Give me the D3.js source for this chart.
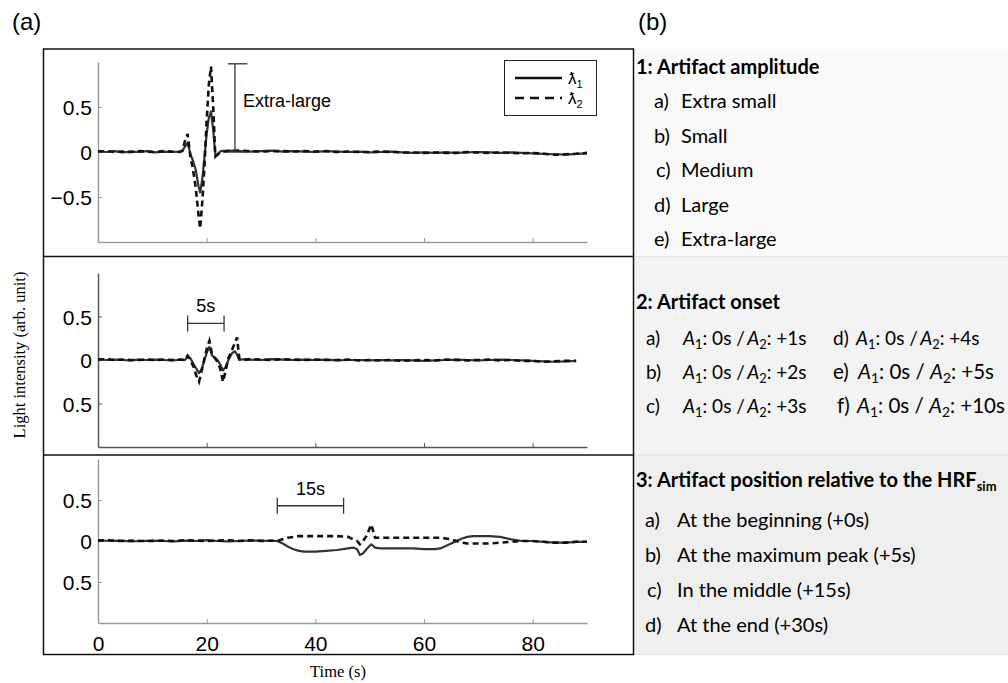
<!DOCTYPE html>
<html>
<head>
<meta charset="utf-8">
<script src="https://cdn.jsdelivr.net/npm/d3@7"></script>
<style>
  body { margin: 0; background: #fff; }
  svg { display: block; }
</style>
</head>
<body>
<div id="draw_here"></div>
<script type="text/javascript">
    // values (time in s, light intensity in arb. unit)
    xTicks = [0, 20, 40, 60, 80]
    yTicks = [-0.5, 0, 0.5]
    yTickLabelsTop = ["\u22120.5", "0", "0.5"]
    yTickLabelsOther = ["0.5", "0", "0.5"]

    // panel 1: extra-large amplitude
    t1 = [0, 1.5, 3, 4.5, 6, 7.5, 9, 10.5, 12, 13.5, 15, 15.5, 16, 16.5, 17, 17.5, 18, 18.5, 18.8, 19.2, 19.6, 20, 20.4, 20.8, 21.2, 21.6, 22, 22.6,
          24, 26, 28, 30, 32, 34, 36, 38, 40, 42, 44, 46, 48, 50, 52, 54, 56, 58, 60, 62, 64, 66, 68, 70, 72, 74, 76, 78, 80, 82, 84, 86, 88, 90]
    p1_l1 = [0.01, 0.0, 0.01, -0.005, 0.005, 0.0, 0.01, -0.005, 0.005, 0.0, 0.005, 0.01, 0.06, 0.1, -0.02, -0.1, -0.2, -0.38, -0.45, -0.3, -0.05, 0.2, 0.38, 0.45, 0.25, -0.04, -0.02, 0.01,
          0.015, 0.01, 0.005, 0.01, 0.015, 0.005, 0.01, 0.005, 0.0, 0.01, 0.005, 0.0, 0.005, -0.005, 0.0, 0.005, -0.005, -0.01, -0.005, -0.01, -0.005, -0.01, -0.005, 0.0, -0.005, -0.01, -0.005, -0.01, -0.015, -0.02, -0.025, -0.03, -0.02, -0.015]
    p1_l2 = [0.005, 0.01, 0.0, 0.005, 0.0, 0.01, 0.005, 0.0, 0.01, 0.005, 0.0, 0.01, 0.12, 0.2, -0.05, -0.2, -0.4, -0.7, -0.85, -0.55, -0.15, 0.35, 0.75, 0.95, 0.5, -0.05, -0.03, 0.0,
          0.01, 0.015, 0.01, 0.005, 0.01, 0.01, 0.005, 0.01, 0.005, 0.01, 0.0, 0.005, 0.0, 0.0, 0.005, 0.0, -0.005, -0.005, -0.01, -0.005, -0.01, -0.01, 0.0, -0.005, -0.01, -0.005, -0.01, -0.015, -0.01, -0.02, -0.03, -0.025, -0.02, -0.01]

    // panel 2: onset (A1 / A2 five seconds apart)
    t2 = [0, 1.5, 3, 4.5, 6, 7.5, 9, 10.5, 12, 13.5, 15, 16, 16.5, 17, 17.6, 18.1, 18.6, 19.1, 19.6, 20.1, 20.5, 21, 21.5, 22, 22.5, 23, 23.5, 24, 24.7, 25.2, 25.6, 26, 27,
          28, 30, 32, 34, 36, 38, 40, 42, 44, 46, 48, 50, 52, 54, 56, 58, 60, 62, 64, 66, 68, 70, 72, 74, 76, 78, 80, 82, 84, 86, 88, 90]
    p2_l1 = [0.01, 0.0, 0.005, 0.0, -0.005, 0.005, 0.0, 0.005, 0.0, -0.005, 0.0, 0.0, 0.04, 0.02, -0.05, -0.1, -0.15, -0.1, 0.0, 0.1, 0.15, 0.05, 0.03, 0.0, -0.05, -0.12, -0.08, 0.0, 0.08, 0.1, 0.06, 0.0, 0.01,
          0.005, 0.0, 0.01, 0.005, 0.0, 0.005, 0.0, 0.005, -0.005, 0.0, 0.0, -0.005, 0.0, -0.005, 0.0, -0.005, -0.01, -0.005, 0.0, 0.005, 0.0, -0.005, 0.0, 0.005, 0.0, -0.005, -0.01, -0.015, -0.02, -0.015, -0.01]
    p2_l2 = [0.005, 0.01, 0.0, 0.005, 0.0, 0.0, 0.005, 0.0, 0.005, 0.0, 0.005, 0.0, 0.05, 0.0, -0.08, -0.18, -0.25, -0.12, 0.02, 0.15, 0.22, 0.06, 0.02, -0.02, -0.1, -0.25, -0.12, 0.02, 0.12, 0.2, 0.26, 0.02, 0.0,
          0.01, 0.005, 0.0, 0.01, 0.005, 0.0, 0.005, 0.0, 0.0, 0.005, -0.005, 0.0, -0.005, 0.0, -0.01, -0.005, 0.0, -0.005, 0.005, 0.0, -0.005, 0.0, 0.005, -0.005, 0.0, -0.01, -0.01, -0.02, -0.015, -0.01, -0.01]

    // panel 3: artifact in the middle of the simulated HRF
    t3 = [0, 2, 4, 6, 8, 10, 12, 14, 16, 18, 20, 22, 24, 26, 28, 30, 32, 33, 34, 35, 36, 37, 38, 40, 42, 44, 46, 47, 47.7, 48.2, 48.8, 49.4, 50.3, 51, 52,
          54, 56, 58, 60, 62, 63, 64, 65, 66, 67, 68, 69, 70, 72, 74, 76, 78, 80, 82, 84, 86, 88, 90]
    p3_l1 = [0.01, 0.0, 0.005, -0.005, 0.0, 0.005, 0.0, -0.005, 0.005, 0.0, 0.01, 0.0, -0.005, 0.0, 0.005, 0.005, 0.0, 0.0, -0.03, -0.07, -0.1, -0.12, -0.13, -0.13, -0.12, -0.11, -0.09, -0.08, -0.1, -0.17, -0.15, -0.1, -0.04, -0.08, -0.09,
          -0.09, -0.09, -0.09, -0.1, -0.1, -0.09, -0.06, -0.03, 0.0, 0.03, 0.05, 0.06, 0.06, 0.06, 0.05, 0.02, 0.0, 0.0, -0.01, -0.02, -0.02, -0.01, -0.01]
    p3_l2 = [0.005, 0.01, 0.0, 0.005, 0.0, 0.0, 0.005, 0.0, 0.01, 0.005, 0.0, 0.005, 0.01, 0.0, 0.01, 0.0, 0.005, 0.0, 0.02, 0.04, 0.05, 0.06, 0.06, 0.06, 0.06, 0.06, 0.05, 0.02, 0.0, -0.04, 0.0, 0.06, 0.2, 0.04, 0.04,
          0.04, 0.04, 0.04, 0.04, 0.04, 0.04, 0.03, 0.02, 0.0, -0.02, -0.03, -0.03, -0.03, -0.03, -0.02, -0.01, 0.0, 0.0, -0.01, -0.02, -0.02, -0.01, -0.01]

    // annotations (data coords)
    brXL = {t: 25.2, t0: 23.9, t1: 27.5, y0: 0.0, y1: 0.98, label: "Extra-large"}
    br5s = {t0: 16.5, t1: 23.2, y: 0.42, label: "5s"}
    br15s = {t0: 33, t1: 45.2, y: 0.43, label: "15s"}

    legendNames = ["\u019B", "\u019B"]
    legendSubs = ["1", "2"]

    // right-hand table
    sec1Title = "1: Artifact amplitude"
    sec1Keys = ["a)", "b)", "c)", "d)", "e)"]
    sec1Items = ["Extra small", "Small", "Medium", "Large", "Extra-large"]
    sec2Title = "2: Artifact onset"
    sec2Left = [["a)", "+1s"], ["b)", "+2s"], ["c)", "+3s"]]
    sec2Right = [["d)", "+4s"], ["e)", "+5s"], ["f)", "+10s"]]
    sec3Title = "3: Artifact position relative to the HRF"
    sec3Keys = ["a)", "b)", "c)", "d)"]
    sec3Items = ["At the beginning (+0s)", "At the maximum peak (+5s)", "In the middle (+15s)", "At the end (+30s)"]

    // Setup
    canvas = ({width: 1008, height: 683})
    box = ({left: 43.5, right: 633.5, top: 49, bottom: 654.5, div1: 256.5, div2: 455})
    sans = "'Liberation Sans', Arial, sans-serif"
    serif = "'Liberation Serif', 'Times New Roman', serif"
    calib = "Lato, 'Open Sans', sans-serif"

    panels = [
        {t: t1, l1: p1_l1, l2: p1_l2, top: 62, bottom: 242, axisColor: "#9a9a9a", labels: yTickLabelsTop},
        {t: t2, l1: p2_l1, l2: p2_l2, top: 273, bottom: 447, axisColor: "#555", labels: yTickLabelsOther},
        {t: t3, l1: p3_l1, l2: p3_l2, top: 459, bottom: 623, axisColor: "#9a9a9a", labels: yTickLabelsOther}
    ]

    x = d3.scaleLinear().domain([0, 90]).range([98, 587])

    var svg = d3.select("div#draw_here").append("svg")
        .attr("width", canvas.width)
        .attr("height", canvas.height)
        .attr("viewBox", [0, 0, canvas.width, canvas.height])

    // right side backgrounds
    sectionBg = [
        {y0: box.top, y1: box.div1, fill: "#f9f9f9"},
        {y0: box.div1, y1: box.div2, fill: "#f3f3f3"},
        {y0: box.div2, y1: box.bottom, fill: "#efefef"}
    ]
    svg.selectAll("rect.bg").data(sectionBg).join("rect")
        .attr("class", "bg")
        .attr("x", box.right)
        .attr("y", d => d.y0)
        .attr("width", canvas.width - box.right)
        .attr("height", d => d.y1 - d.y0)
        .attr("fill", d => d.fill)
    svg.selectAll("line.sep").data([box.div1, box.div2, box.bottom]).join("line")
        .attr("class", "sep")
        .attr("x1", box.right).attr("x2", canvas.width)
        .attr("y1", d => d).attr("y2", d => d)
        .attr("stroke", "#e2e2e2")
        .attr("stroke-width", 1.2)

    // left box
    svg.append("rect")
        .attr("x", box.left).attr("y", box.top)
        .attr("width", box.right - box.left).attr("height", box.bottom - box.top)
        .attr("fill", "none").attr("stroke", "#111").attr("stroke-width", 1.5)
    svg.selectAll("line.div").data([box.div1, box.div2]).join("line")
        .attr("class", "div")
        .attr("x1", box.left).attr("x2", box.right)
        .attr("y1", d => d).attr("y2", d => d)
        .attr("stroke", "#111").attr("stroke-width", 1.5)

    line = (p, y) => d3.line()
        .x((d, i) => x(p.t[i]))
        .y(d => y(d))

    panels.forEach((p, k) => {
        p.y = d3.scaleLinear().domain([-1, 1]).range([p.bottom, p.top])
        var g = svg.append("g")

        // x axis, ticks pointing inward
        var xa = g.append("g")
            .attr("transform", `translate(0,${p.bottom})`)
            .call(d3.axisTop(x).tickValues(xTicks).tickSize(4).tickSizeOuter(0).tickFormat(""))
        xa.select(".domain").attr("stroke", p.axisColor).attr("stroke-width", 1.5)
        xa.selectAll(".tick line").attr("stroke", p.axisColor)
        if (k == 2) {
            xa.selectAll(".tick").append("text")
                .attr("y", 28)
                .attr("fill", "#000")
                .attr("text-anchor", "middle")
                .style("font-family", sans)
                .style("font-size", "21px")
                .text(d => d)
        }

        // y axis
        var ya = g.append("g")
            .attr("transform", `translate(${x(0)},0)`)
            .call(d3.axisRight(p.y).tickValues(yTicks).tickSize(4).tickSizeOuter(0).tickFormat(""))
        ya.select(".domain").attr("stroke", p.axisColor).attr("stroke-width", 1.5)
        ya.selectAll(".tick line").attr("stroke", p.axisColor)
        ya.selectAll(".tick").append("text")
            .attr("x", -6)
            .attr("dy", "0.36em")
            .attr("fill", "#000")
            .attr("text-anchor", "end")
            .style("font-family", sans)
            .style("font-size", "21px")
            .text((d, i) => p.labels[i])

        g.append("path")
            .attr("fill", "none")
            .attr("stroke", "#333")
            .attr("stroke-width", 2.2)
            .attr("stroke-linejoin", "round")
            .attr("d", line(p, p.y)(p.l1))
        g.append("path")
            .attr("fill", "none")
            .attr("stroke", "#111")
            .attr("stroke-width", 2.6)
            .attr("stroke-dasharray", "6,4")
            .attr("d", line(p, p.y)(p.l2))
    })

    // annotations
    var y1 = panels[0].y, y2 = panels[1].y, y3 = panels[2].y
    var ann = svg.append("g").attr("stroke", "#333").attr("stroke-width", 1.3).attr("fill", "none")
    ann.append("line").attr("x1", x(brXL.t)).attr("x2", x(brXL.t)).attr("y1", y1(brXL.y0)).attr("y2", y1(brXL.y1))
    ann.append("line").attr("x1", x(brXL.t0)).attr("x2", x(brXL.t1)).attr("y1", y1(brXL.y1)).attr("y2", y1(brXL.y1))
    ann.append("line").attr("x1", x(brXL.t0)).attr("x2", x(brXL.t1)).attr("y1", y1(brXL.y0)).attr("y2", y1(brXL.y0))
    svg.append("text")
        .attr("x", x(brXL.t) + 8).attr("y", y1(0.5))
        .style("font-family", sans).style("font-size", "18px")
        .text(brXL.label)

    ;[[br5s, y2], [br15s, y3]].forEach(([b, y]) => {
        ann.append("line").attr("x1", x(b.t0)).attr("x2", x(b.t1)).attr("y1", y(b.y)).attr("y2", y(b.y))
        ann.append("line").attr("x1", x(b.t0)).attr("x2", x(b.t0)).attr("y1", y(b.y) - 8).attr("y2", y(b.y) + 8)
        ann.append("line").attr("x1", x(b.t1)).attr("x2", x(b.t1)).attr("y1", y(b.y) - 8).attr("y2", y(b.y) + 8)
        svg.append("text")
            .attr("x", (x(b.t0) + x(b.t1)) / 2).attr("y", y(b.y) - 11)
            .attr("text-anchor", "middle")
            .style("font-family", sans).style("font-size", "18px")
            .text(b.label)
    })

    // legend
    var lg = svg.append("g")
    lg.append("rect").attr("x", 504.5).attr("y", 60.5).attr("width", 92).attr("height", 55)
        .attr("fill", "#fff").attr("stroke", "#222").attr("stroke-width", 1)
    legendNames.forEach((n, i) => {
        var yy = 78 + i * 20
        lg.append("line").attr("x1", 515).attr("x2", 562).attr("y1", yy).attr("y2", yy)
            .attr("stroke", "#111").attr("stroke-width", 2.6)
            .attr("stroke-dasharray", i == 1 ? "9,6" : null)
        var tx = lg.append("text").attr("x", 568).attr("y", yy + 6)
            .style("font-family", sans).style("font-size", "17px")
        tx.append("tspan").text(n)
        tx.append("tspan").attr("dy", 4).style("font-size", "11px").text(legendSubs[i])
    })

    // axis titles
    svg.append("text")
        .attr("transform", "translate(25,355) rotate(-90)")
        .attr("text-anchor", "middle")
        .style("font-family", serif).style("font-size", "16.5px")
        .text("Light intensity (arb. unit)")
    svg.append("text")
        .attr("x", 338).attr("y", 677)
        .attr("text-anchor", "middle")
        .style("font-family", serif).style("font-size", "16.5px")
        .text("Time (s)")

    // panel letters
    svg.append("text").attr("x", 12).attr("y", 30)
        .style("font-family", sans).style("font-size", "24px").text("(a)")
    svg.append("text").attr("x", 638).attr("y", 30)
        .style("font-family", sans).style("font-size", "24px").text("(b)")

    // right table text
    var tb = svg.append("g").style("font-family", calib).attr("fill", "#000")
    tb.append("text").attr("x", 636).attr("y", 74).style("font-size", "20px").style("font-weight", "bold").text(sec1Title)
    sec1Items.forEach((s, i) => {
        var t = tb.append("text").attr("y", 108 + i * 34.6).style("font-size", "20px")
        t.append("tspan").attr("x", i == 2 ? 656 : 654).text(sec1Keys[i])
        t.append("tspan").attr("x", 681).text(s)
    })

    tb.append("text").attr("x", 636).attr("y", 309).style("font-size", "20px").style("font-weight", "bold").text(sec2Title)
    function onset(row, x0, xa, yy, fs, spaced) {
        var t = tb.append("text").attr("x", x0).attr("y", yy).style("font-size", fs + "px")
        t.append("tspan").text(row[0])
        t.append("tspan").attr("x", xa).style("font-style", "italic").text("A")
        t.append("tspan").attr("dy", 4).style("font-size", (fs * 0.68) + "px").text("1")
        t.append("tspan").attr("dy", -4).text(spaced ? ": 0s / " : ": 0s /\u2009")
        t.append("tspan").style("font-style", "italic").text("A")
        t.append("tspan").attr("dy", 4).style("font-size", (fs * 0.68) + "px").text("2")
        t.append("tspan").attr("dy", -4).text(": " + row[1])
    }
    sec2Left.forEach((r, i) => onset(r, 646, 683, 345 + i * 34, 19, false))
    sec2Right.forEach((r, i) => onset(r, i == 2 ? 837 : 833, [856, 858, 857][i], 345 + i * 34, i == 0 ? 19 : 20.5, i > 0))

    var h3 = tb.append("text").attr("x", 636).attr("y", 487).style("font-size", "20px").style("font-weight", "bold")
    h3.append("tspan").text(sec3Title)
    h3.append("tspan").attr("dy", 4).style("font-size", "13px").text("sim")
    sec3Items.forEach((s, i) => {
        var t = tb.append("text").attr("y", 527 + i * 35).style("font-size", "20px")
        t.append("tspan").attr("x", i == 2 ? 647 : 645).text(sec3Keys[i])
        t.append("tspan").attr("x", 677).text(s)
    })
</script>
</body>
</html>
